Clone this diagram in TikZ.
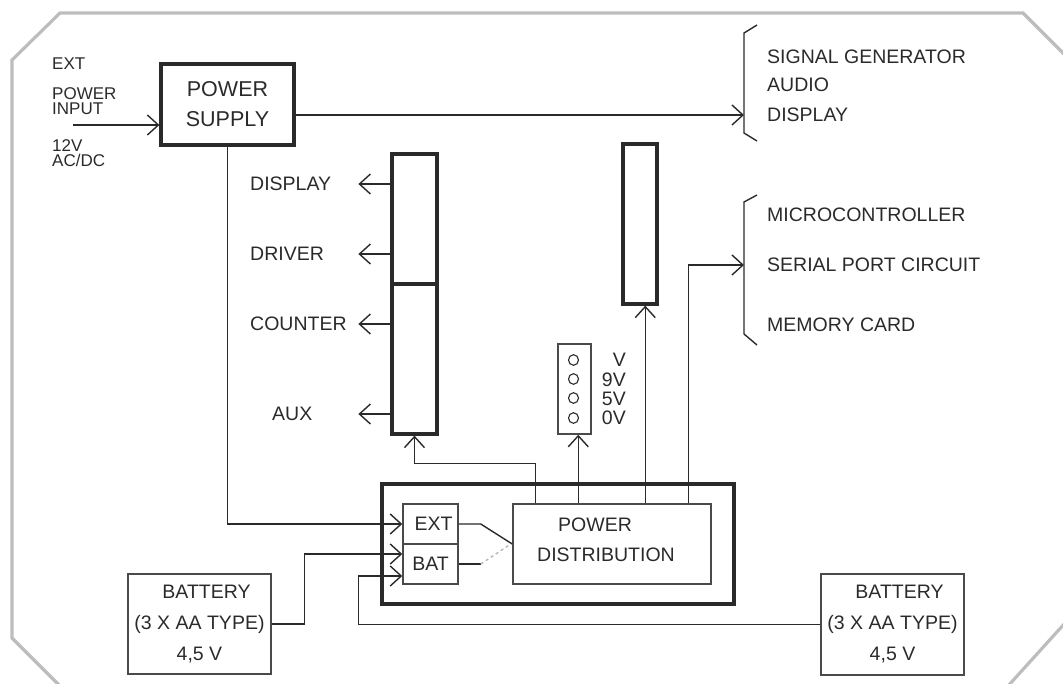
\documentclass[tikz,border=0pt]{standalone}
\usepackage{fontspec}
\setmainfont{Liberation Sans}
\usetikzlibrary{arrows.meta,calc}
\definecolor{ink}{HTML}{2A2A2A}
\definecolor{frame}{HTML}{BDBDBD}
\tikzset{
  lbl/.style={font=\fontsize{19.5}{31}\selectfont, text=ink, inner sep=0pt},
  small/.style={font=\fontsize{17}{15}\selectfont, text=ink, inner sep=0pt, align=left},
  thickbox/.style={draw=ink, line width=3.2pt, inner sep=0pt},
  thinbox/.style={draw=ink!85, line width=1.5pt, inner sep=0pt},
  wire/.style={draw=ink, line width=1.4pt},
  arr/.style={wire, -{Straight Barb[length=11pt,width=20pt]}},
  border/.style={draw=frame, line width=3.2pt},
}
\begin{document}
\begin{tikzpicture}[x=1pt,y=-1pt]
\useasboundingbox (0,0) rectangle (1063,683);
\begin{scope}
\clip (0,0) rectangle (1063,683);
\draw[border] (1085,75) -- (1023,13) -- (60,13) -- (12,60) -- (12,638) -- (60,686);
\draw[border] (1008,686) -- (1075,612);
\end{scope}

% input labels
\node[small, anchor=west] (extl) at (52,64) {EXT};
\node[small, anchor=west] (pin) at (52,101) {POWER\\INPUT};
\node[small, anchor=west] (acdc) at (52,153) {12V\\AC/DC};

% power supply
\node[thickbox, minimum width=133, minimum height=81, align=center,
      font=\fontsize{21.5}{30}\selectfont, text=ink] (ps) at (227.5,104.5) {POWER\\SUPPLY};
\coordinate (in) at (73,125);
\draw[arr] (in) -- (in -| ps.west);

% brace 1
\draw[wire] (757,25) -- (744,33) -- (744,133) -- (757,141);
\coordinate (b1) at (744,115);
\draw[arr] (b1 -| ps.east) -- (b1);
\node[lbl, anchor=west] (sg) at (767,57) {SIGNAL GENERATOR};
\node[lbl, anchor=west] (au) at (767,85) {AUDIO};
\node[lbl, anchor=west] (di) at (767,115) {DISPLAY};

% brace 2
\draw[wire] (757,195) -- (744,202) -- (744,334) -- (757,345);
\coordinate (b2) at (744,265);
\node[lbl, anchor=west] (mc) at (767,215) {MICROCONTROLLER};
\node[lbl, anchor=west] (sp) at (767,265) {SERIAL PORT CIRCUIT};
\node[lbl, anchor=west] (mem) at (767,325) {MEMORY CARD};

% left tall box
\node[thickbox, minimum width=45, minimum height=130] (lbtop) at (414.5,219) {};
\node[thickbox, minimum width=45, minimum height=150] (lbbot) at (414.5,359) {};
\draw[arr] ($(lbtop.west)+(0,-35)$) -- ++(-32,0);
\draw[arr] ($(lbtop.west)+(0,35)$) -- ++(-32,0);
\draw[arr] ($(lbbot.west)+(0,-35)$) -- ++(-32,0);
\draw[arr] ($(lbbot.west)+(0,55)$) -- ++(-32,0);
\node[lbl, anchor=west] (ldisp) at (250,184) {DISPLAY};
\node[lbl, anchor=west] (ldrv) at (250,254) {DRIVER};
\node[lbl, anchor=west] (lcnt) at (250,324) {COUNTER};
\node[lbl, anchor=west] (laux) at (272,414) {AUX};

% middle tall box
\node[thickbox, minimum width=34, minimum height=160] (mid) at (640,224) {};

% connector box
\node[thinbox, minimum width=33, minimum height=90] (conn) at (574.5,389) {};
\foreach \yy in {360,379,398,418} \draw[wire, line width=1.1pt] (573.5,\yy) circle[x radius=5, y radius=5.3];
\node[lbl, anchor=east] (v0) at (626,360) {V};
\node[lbl, anchor=east] (v9) at (626,380) {9V};
\node[lbl, anchor=east] (v5) at (626,399) {5V};
\node[lbl, anchor=east] (vz) at (626,418) {0V};

% distribution unit
\node[thickbox, minimum width=352, minimum height=120] (outer) at (558,544) {};
\node[thinbox, minimum width=198, minimum height=80] (dist) at (612,544) {};
\node[lbl] (pwr) at (595,525) {POWER};
\node[lbl] (distr) at (606,555) {DISTRIBUTION};
\node[thinbox, minimum width=55, minimum height=40, lbl] (ext) at (430.5,524) {\hspace{6pt}EXT};
\node[thinbox, minimum width=55, minimum height=40, lbl] (bat) at (430.5,564) {BAT};

\draw[wire] (ext.east) -- ++(22,0) -- (dist.west);
\draw[wire] (bat.east) -- ++(22,0) coordinate (sw);
\draw[draw=ink!35, line width=1.3pt, dashed] (sw) -- ($(dist.west)+(-3,1)$);

% batteries
\node[thinbox, minimum width=143, minimum height=100, lbl, align=center] (batL) at (199.5,624) {\hspace{14pt}BATTERY\\(3 X AA TYPE)\\4,5 V};
\node[thinbox, minimum width=143, minimum height=101, lbl, align=center] (batR) at (892.5,624.5) {\hspace{14pt}BATTERY\\(3 X AA TYPE)\\4,5 V};

% connectors
\draw[arr] (ps.south) |- (ext.west);
\draw[arr] (batL.east) -- ++(33,0) |- ($(bat.west)+(0,-10)$);
\draw[arr] (batR.west) -| ($(bat.west)+(-44,12)$) -- ($(bat.west)+(0,12)$);

\draw[arr] ($(dist.north west)+(23,0)$) -- ++(0,-40) -| (lbbot.south);
\draw[arr] ($(dist.north west)+(66,0)$) coordinate (t1) -- (t1 |- conn.south);
\draw[arr] ($(dist.north west)+(133,0)$) coordinate (t2) -- (t2 |- mid.south);
\draw[arr] ($(dist.north west)+(176,0)$) |- (b2);
\end{tikzpicture}
\end{document}
